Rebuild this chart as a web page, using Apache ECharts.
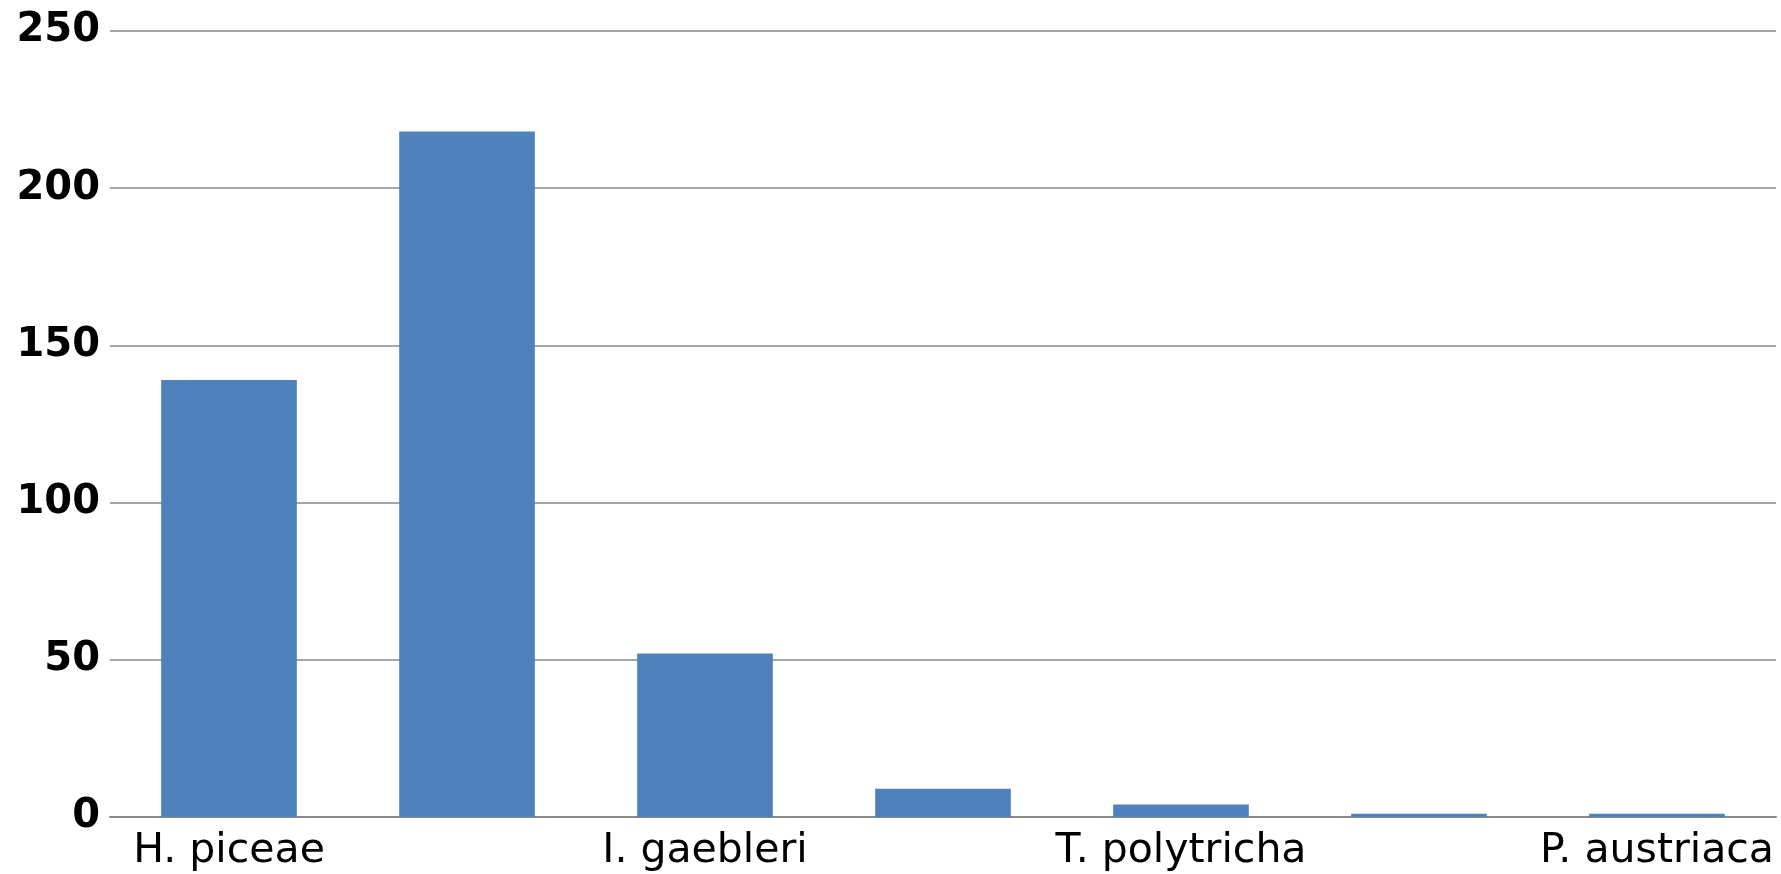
<!DOCTYPE html>
<html>
<head>
<meta charset="utf-8">
<script src="https://cdn.jsdelivr.net/npm/echarts@6/dist/echarts.min.js"></script>
<style>
  html, body { margin: 0; padding: 0; background: #fff; }
  #chart { width: 1781px; height: 874px; }
</style>
</head>
<body>
<div id="chart"></div>
<script>
var categories = ["H. piceae", "", "I. gaebleri", "", "T. polytricha", "", "P. austriaca"];
var counts = [139, 218, 52, 9, 4, 1, 1];
var yTicks = [0, 50, 100, 150, 200, 250];

var chart = echarts.init(document.getElementById("chart"));
chart.setOption({
    animation: false,
    grid: { left: 110, right: 5, top: 31, bottom: 57, containLabel: false },
    xAxis: {
        type: "category",
        data: categories,
        axisLine: { lineStyle: { color: "#898989", width: 2 } },
        axisTick: { show: false },
        axisLabel: {
            interval: 0,
            color: "#000",
            fontFamily: "DejaVu Sans",
            fontSize: 41,
            margin: 14
        }
    },
    yAxis: {
        type: "value",
        min: yTicks[0],
        max: yTicks[yTicks.length - 1],
        interval: 50,
        axisLine: { show: false },
        axisTick: { show: false },
        splitLine: { lineStyle: { color: "#898989", width: 1.5 } },
        axisLabel: {
            color: "#000",
            fontFamily: "DejaVu Sans",
            fontWeight: "bold",
            fontSize: 40,
            margin: 10
        }
    },
    series: [{
        type: "bar",
        data: counts,
        barCategoryGap: "43%",
        itemStyle: { color: "#4f81bd" }
    }]
});
</script>
</body>
</html>
